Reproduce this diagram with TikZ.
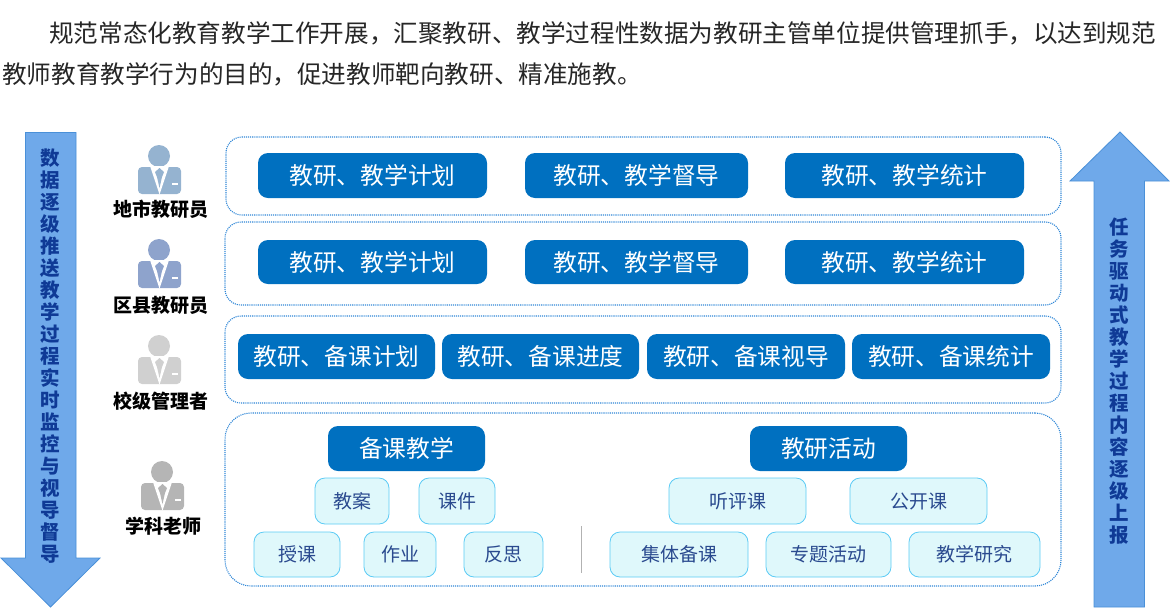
\documentclass[tikz,border=0pt]{standalone}
\usepackage{fontspec}
\setmainfont{Noto Sans CJK SC}
\definecolor{btnblue}{HTML}{0070C0}
\definecolor{paleblue}{HTML}{DFF8FB}
\definecolor{paleline}{HTML}{5CCBF5}
\definecolor{paletext}{HTML}{2A4A8F}
\definecolor{arrowblue}{HTML}{6FA9EA}
\definecolor{arrowline}{HTML}{4A90D8}
\definecolor{arrowtext}{HTML}{0F3A96}
\definecolor{dotblue}{HTML}{2E86D6}
\definecolor{cityicon}{HTML}{95B3D0}
\definecolor{countyicon}{HTML}{8EA3CC}
\definecolor{schoolicon}{HTML}{D0D0D0}
\definecolor{teachericon}{HTML}{B5B5B5}
\tikzset{
	panel/.style={draw=dotblue, line width=1.1pt, densely dotted, rounded corners=16pt, inner sep=0pt},
	bluebtn/.style={fill=btnblue, rounded corners=10pt, inner sep=0pt, text=white, font=\fontsize{23.7}{26}\selectfont},
	palebtn/.style={draw=paleline, fill=paleblue, line width=0.8pt, rounded corners=10pt, inner sep=0pt, text=paletext, font=\fontsize{19}{22}\selectfont},
	rolelabel/.style={font=\fontsize{19}{22}\selectfont\bfseries, inner sep=0pt},
	introline/.style={anchor=west, inner sep=0pt, text=black!85, font=\fontsize{24.6}{28}\selectfont},
	arrowlabel/.style={align=center, inner sep=0pt, text=arrowtext, font=\fontsize{19.5}{22}\selectfont\bfseries},
	bigarrow/.style={fill=arrowblue, draw=arrowline, line width=0.8pt, line join=miter},
	person/.pic={
		\fill[pic actions, rounded corners=4pt] (-21, 11) rectangle (22, 38);
		\fill[pic actions] (0, 0) circle (11);
		\fill[white] (-9, 10) -- (0.5, 38.5) -- (10, 10) -- cycle;
		\fill[pic actions] (0.5, 12) -- (5, 16) -- (3, 21) -- (0.5, 32) -- (-2, 21) -- (-4, 16) -- cycle;
		\draw[white, line width=1.2pt] (13, 28) -- (19, 28);
	}
}
\def\boxnode[#1](#2)(#3,#4,#5,#6)#7{\node[#1, minimum width={(#5-#3)*1pt}, minimum height={(#6-#4)*1pt}] (#2) at ({(#3+#5)/2},{(#4+#6)/2}) {#7};}

\begin{document}
\begin{tikzpicture}[x=1pt, y=-1pt]
	\useasboundingbox (0, 0) rectangle (1170, 611);
	
	%%%%% INTRO %%%%%
	\node[introline] (intro1) at (49, 33) {规范常态化教育教学工作开展，汇聚教研、教学过程性数据为教研主管单位提供管理抓手，以达到规范};
	\node[introline] (intro2) at (2, 74) {教师教育教学行为的目的，促进教师靶向教研、精准施教。};
	
	%%%%% SIDE ARROWS %%%%%
	\draw[bigarrow] (25.5, 132.5) -- (76, 132.5) -- (76, 558) -- (100, 558) -- (50.5, 607) -- (1, 558) -- (25.5, 558) -- cycle;
	\node[arrowlabel] (pushlabel) at (50, 356) {数\\据\\逐\\级\\推\\送\\教\\学\\过\\程\\实\\时\\监\\控\\与\\视\\导\\督\\导};
	\draw[bigarrow] (1120, 132) -- (1169, 181) -- (1144.5, 181) -- (1144.5, 607) -- (1094, 607) -- (1094, 181) -- (1070, 181) -- cycle;
	\node[arrowlabel] (tasklabel) at (1119, 381) {任\\务\\驱\\动\\式\\教\\学\\过\\程\\内\\容\\逐\\级\\上\\报};
	
	%%%%% ROLES %%%%%
	\pic[fill=cityicon] at (159, 156) {person};
	\node[rolelabel] (city) at (161, 209) {地市教研员};
	\pic[fill=countyicon] at (159, 250) {person};
	\node[rolelabel] (county) at (161, 305) {区县教研员};
	\pic[fill=schoolicon] at (159, 346) {person};
	\node[rolelabel] (school) at (161, 401) {校级管理者};
	\pic[fill=teachericon] at (162, 472) {person};
	\node[rolelabel] (teacher) at (163, 526) {学科老师};
	
	%%%%% PANELS %%%%%
	\boxnode[panel](citypanel)(226,137,1061,215){}
	\boxnode[panel](countypanel)(225,222,1061,305){}
	\boxnode[panel](schoolpanel)(225,316,1061,403){}
	\boxnode[panel, rounded corners=26pt](teacherpanel)(225,413,1061,586){}
	
	\boxnode[bluebtn](cityplan)(258,153,487,198){教研、教学计划}
	\boxnode[bluebtn](citysup)(525,153,748,198){教研、教学督导}
	\boxnode[bluebtn](citystat)(785,153,1024,198){教研、教学统计}
	
	\boxnode[bluebtn](countyplan)(258,240,487,284){教研、教学计划}
	\boxnode[bluebtn](countysup)(525,240,748,284){教研、教学督导}
	\boxnode[bluebtn](countystat)(785,240,1024,284){教研、教学统计}
	
	\boxnode[bluebtn](schoolplan)(238,334,435,379){教研、备课计划}
	\boxnode[bluebtn](schoolprog)(442,334,639,379){教研、备课进度}
	\boxnode[bluebtn](schoolsup)(647,334,845,379){教研、备课视导}
	\boxnode[bluebtn](schoolstat)(852,334,1050,379){教研、备课统计}
	
	\boxnode[bluebtn](prep)(328,426,485,471){备课教学}
	\boxnode[bluebtn](research)(750,426,907,471){教研活动}
	
	\boxnode[palebtn](lesson)(315,478,389,524){教案}
	\boxnode[palebtn](slides)(419,478,495,524){课件}
	\boxnode[palebtn](teach)(254,532,340,577){授课}
	\boxnode[palebtn](homework)(364,532,436,577){作业}
	\boxnode[palebtn](reflect)(464,532,543,577){反思}
	
	\boxnode[palebtn](review)(669,478,806,524){听评课}
	\boxnode[palebtn](open)(850,478,987,524){公开课}
	\boxnode[palebtn](group)(610,532,748,577){集体备课}
	\boxnode[palebtn](topic)(766,532,891,577){专题活动}
	\boxnode[palebtn](study)(909,532,1040,577){教学研究}
	
	\draw[color=black!30, line width=0.8pt] (581.5, 526) -- (581.5, 573);
\end{tikzpicture}
\end{document}
